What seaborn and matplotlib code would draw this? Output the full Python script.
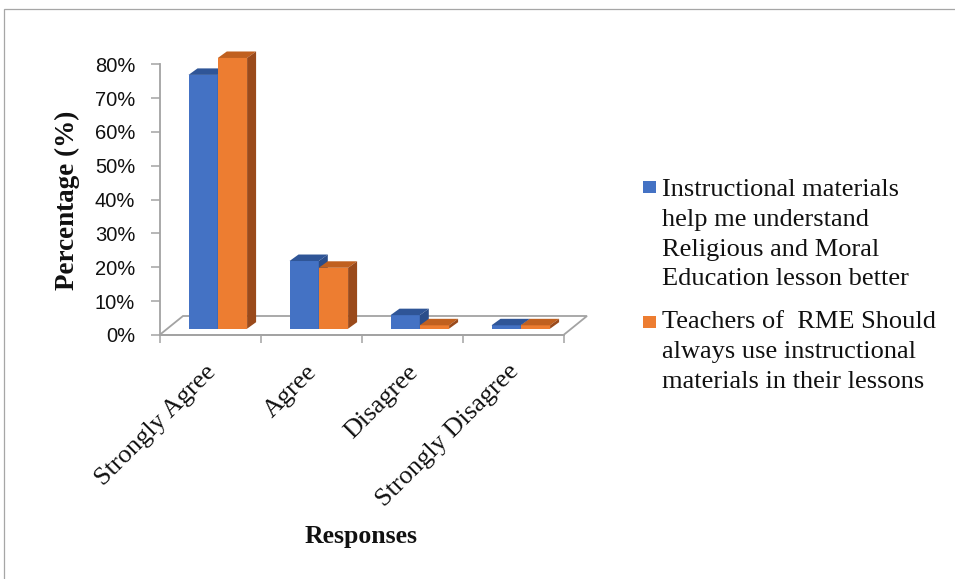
import matplotlib
matplotlib.use("Agg")
import matplotlib.pyplot as plt
import pandas as pd
import seaborn as sns
from matplotlib.patches import Polygon, Rectangle

# ---- data -------------------------------------------------------------
responses = ["Strongly Agree", "Agree", "Disagree", "Strongly Disagree"]
series_labels = [
    "Instructional materials\nhelp me understand\nReligious and Moral\nEducation lesson better",
    "Teachers of  RME Should\nalways use instructional\nmaterials in their lessons",
]
understand_pct = [75, 20, 4, 1]
always_use_pct = [80, 18, 1, 1]
y_tick_values = [0, 10, 20, 30, 40, 50, 60, 70, 80]
y_tick_labels = [f"{v}%" for v in y_tick_values]

# ---- style ------------------------------------------------------------
sns.set_theme(style="white")
SERIF = ["Liberation Serif", "DejaVu Serif"]
SANS = ["Liberation Sans", "DejaVu Sans"]
GRID_GRAY = "#a3a3a3"

front_colors = ["#4472c4", "#ed7d31"]
top_colors = ["#2f5597", "#c0601f"]
side_colors = ["#2a4d8a", "#9a4a1b"]

W, H = 955, 579
fig = plt.figure(figsize=(W / 100, H / 100), dpi=100)

# oblique "3-D" geometry, in pixels
PX_CAT = 101.0          # pixels per category
PX_PCT = 3.384          # pixels per percent
front_left_px = 159.5   # left end of the floor's front edge
bar_plane_px = (7.8, 6.3)   # bar fronts sit this far behind the front edge
floor_depth_px = (23.5, 19.0)
bar_depth_px = (9.0, 6.5)
label_shift_px = -5.0   # category labels sit a little left of the slot centre

x_lo, x_hi = -0.65, 3.5
y_lo, y_hi = -4.0, 85.0
zero_px = 335.0 - bar_plane_px[1]
left_px = front_left_px + bar_plane_px[0] + (x_lo + 0.5) * PX_CAT
bottom_px = zero_px - y_lo * PX_PCT
top_px = zero_px - y_hi * PX_PCT
ax = fig.add_axes([left_px / W, (H - bottom_px) / H,
                   (x_hi - x_lo) * PX_CAT / W, (bottom_px - top_px) / H])

# offsets converted to data units
fx, fy = bar_plane_px[0] / PX_CAT, bar_plane_px[1] / PX_PCT
Dx, Dy = floor_depth_px[0] / PX_CAT, floor_depth_px[1] / PX_PCT
bx, by = bar_depth_px[0] / PX_CAT, bar_depth_px[1] / PX_PCT

df = pd.DataFrame({
    "Response": responses * 2,
    "Percent": understand_pct + always_use_pct,
    "Series": [series_labels[0]] * 4 + [series_labels[1]] * 4,
})

sns.barplot(data=df, x="Response", y="Percent", hue="Series",
            order=responses, hue_order=series_labels,
            palette=front_colors, saturation=1, width=0.58, gap=0,
            linewidth=0, legend=False, ax=ax)

# give every bar a top and a right side face
for k, container in enumerate(ax.containers):
    for bar in container:
        x0, w, h = bar.get_x(), bar.get_width(), bar.get_height()
        bar.set_zorder(2 + k)
        top = Polygon([(x0, h), (x0 + w, h), (x0 + w + bx, h + by), (x0 + bx, h + by)],
                      closed=True, facecolor=top_colors[k], edgecolor="none",
                      zorder=2.1 + k, clip_on=False)
        side = Polygon([(x0 + w, 0), (x0 + w, h), (x0 + w + bx, h + by), (x0 + w + bx, by)],
                       closed=True, facecolor=side_colors[k], edgecolor="none",
                       zorder=2.2 + k, clip_on=False)
        ax.add_patch(top)
        ax.add_patch(side)

# floor outline
FLx, FRx, Fy = -0.5 - fx, len(responses) - 0.5 - fx, -fy
floor = Polygon([(FLx, Fy), (FRx, Fy), (FRx + Dx, Fy + Dy), (FLx + Dx, Fy + Dy)],
                closed=True, facecolor="none", edgecolor=GRID_GRAY, lw=1.3,
                zorder=1, clip_on=False)
ax.add_patch(floor)

ax.set_xlim(x_lo, x_hi)
ax.set_ylim(y_lo, y_hi)

for s in ("top", "right"):
    ax.spines[s].set_visible(False)
ax.spines["left"].set_position(("data", FLx))
ax.spines["left"].set_bounds(Fy, Fy + y_tick_values[-1])
ax.spines["bottom"].set_position(("data", Fy))
ax.spines["bottom"].set_bounds(FLx, FRx)
for s in ("left", "bottom"):
    ax.spines[s].set_color(GRID_GRAY)
    ax.spines[s].set_linewidth(1.3)

ax.set_yticks([v + Fy for v in y_tick_values], labels=y_tick_labels,
              family=SANS, fontsize=14.5, color="#111111")
ax.tick_params(axis="y", direction="out", length=6.5, width=1.1,
               color=GRID_GRAY, pad=11, left=True)

ax.set_xticks([i - fx + label_shift_px / PX_CAT for i in range(len(responses))],
              labels=responses, rotation=45, ha="right", rotation_mode="anchor",
              family=SERIF, fontsize=19, color="#111111")
ax.set_xticks([FLx + i for i in range(len(responses) + 1)], minor=True)
ax.tick_params(axis="x", which="major", length=0, pad=18.5, bottom=True)
ax.tick_params(axis="x", which="minor", direction="out", length=5.5,
               width=1.1, color=GRID_GRAY, bottom=True)

ax.set_ylabel("Percentage (%)", family=SERIF, fontsize=19.5,
              fontweight="bold", color="#111111")
ax.yaxis.set_label_coords(80 / W, 1 - 200 / H, transform=fig.transFigure)
ax.set_xlabel("Responses", family=SERIF, fontsize=18.5,
              fontweight="bold", color="#111111")
ax.xaxis.set_label_coords(361 / W, 1 - 525 / H, transform=fig.transFigure)

# legend: colour key square beside the first line of each entry
legend_rows = [(181, 179), (316, 311)]
for k, (sq_y, txt_y) in enumerate(legend_rows):
    fig.add_artist(Rectangle((643 / W, 1 - (sq_y + 12) / H), 13 / W, 12 / H,
                             facecolor=front_colors[k], edgecolor="none",
                             transform=fig.transFigure))
    fig.text(662 / W, 1 - txt_y / H, series_labels[k], ha="left", va="top",
             family=SERIF, fontsize=19, color="#111111", linespacing=1.46)

# chart frame
fig.add_artist(Rectangle((4 / W, -0.1), 1.2, 1.1 - 9 / H, fill=False,
                         edgecolor="#a6a6a6", lw=0.9, transform=fig.transFigure))

fig.savefig("out.png", dpi=100)
